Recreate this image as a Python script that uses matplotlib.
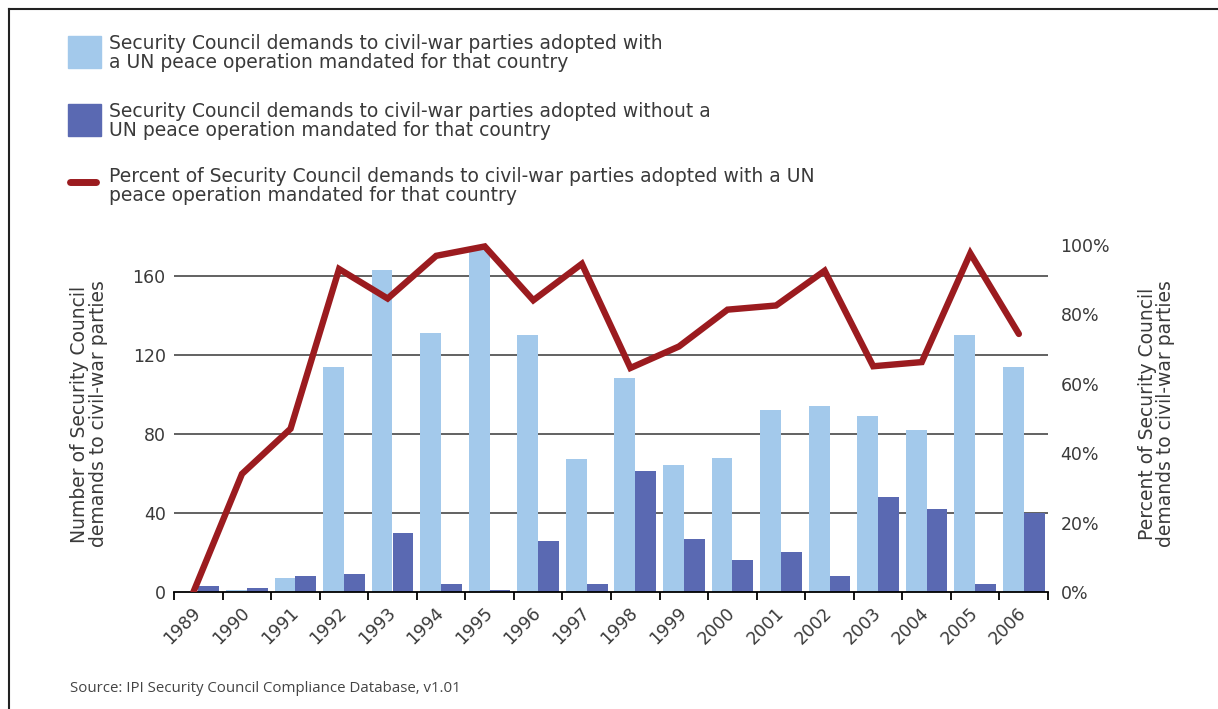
import numpy as np
import matplotlib
matplotlib.use("Agg")
import matplotlib.pyplot as plt
from matplotlib.lines import Line2D
from matplotlib.patches import Rectangle

years = ["1989", "1990", "1991", "1992", "1993", "1994", "1995", "1996", "1997",
         "1998", "1999", "2000", "2001", "2002", "2003", "2004", "2005", "2006"]
with_op = [0, 1, 7, 114, 163, 131, 173, 130, 67, 108, 64, 68, 92, 94, 89, 82, 130, 114]
without_op = [3, 2, 8, 9, 30, 4, 1, 26, 4, 61, 27, 16, 20, 8, 48, 42, 4, 40]
pct_with = [0, 34, 47, 93, 84.5, 96.8, 99.5, 84, 94.5, 64.5, 70.7, 81.3, 82.5, 92.5,
            65, 66.2, 97.5, 74.3]

light = "#a3c9eb"
dark = "#5a69b2"
red = "#9b1b1f"
txt = "#3a3a3a"

plt.rcParams['font.family'] = ['DejaVu Sans']

fig = plt.figure(figsize=(12.18, 7.09), dpi=100)
W, H = 1218, 709
# axes placed in pixel terms: x 174..1048, y 236..592
ax = fig.add_axes([174 / W, 1 - 592 / H, (1048 - 174) / W, (592 - 236) / H])

x = np.arange(len(years))
bw = 0.43
ax.bar(x - bw / 2, with_op, width=bw, color=light, zorder=2)
ax.bar(x + bw / 2, without_op, width=bw, color=dark, zorder=2)

ax.set_xlim(-0.5, len(years) - 0.5)
ax.set_ylim(0, 180)
ax.set_yticks([0, 40, 80, 120, 160])
for v in [40, 80, 120, 160]:
    ax.axhline(v, color="#555555", lw=1.3, zorder=1)
for s in ["top", "right", "left"]:
    ax.spines[s].set_visible(False)
ax.spines["bottom"].set_color("black")
ax.spines["bottom"].set_linewidth(1.3)
ax.tick_params(axis="y", length=0, labelsize=12.5, labelcolor=txt, pad=6)
ax.set_xticks(x)
ax.set_xticklabels(years, rotation=45, ha="right", va="center",
                   rotation_mode="anchor", fontsize=12.5, color=txt)
ax.tick_params(axis="x", length=0, pad=13)
ax.set_xticks(np.arange(len(years) + 1) - 0.5, minor=True)
ax.tick_params(axis="x", which="minor", length=6, width=1.3, color="black")
ax.set_ylabel("Number of Security Council\ndemands to civil-war parties",
              fontsize=13.5, color=txt, labelpad=18, linespacing=0.95)

ax2 = ax.twinx()
ax2.set_ylim(0, 100 * 180 / 175.6)
ax2.set_yticks([0, 20, 40, 60, 80, 100])
ax2.set_yticklabels(["0%", "20%", "40%", "60%", "80%", "100%"])
ax2.tick_params(axis="y", length=0, labelsize=12.5, labelcolor=txt, pad=9)
for s in ["top", "right", "left", "bottom"]:
    ax2.spines[s].set_visible(False)
ax2.plot(x - 0.1, pct_with, color=red, lw=4.6, solid_capstyle="round",
         solid_joinstyle="miter", zorder=3)
ax2.set_ylabel("Percent of Security Council\ndemands to civil-war parties",
               fontsize=13.5, color=txt, labelpad=20, linespacing=0.95)

# legend drawn manually
fig.add_artist(Rectangle((68 / W, 1 - 68 / H), 33 / W, 32 / H, color=light,
                         transform=fig.transFigure))
fig.add_artist(Rectangle((68 / W, 1 - 136 / H), 33 / W, 32 / H, color=dark,
                         transform=fig.transFigure))
fig.add_artist(Line2D([70 / W, 96 / W], [1 - 182 / H, 1 - 182 / H], color=red,
                      lw=5, solid_capstyle="round", transform=fig.transFigure))
legend_texts = [
    ("Security Council demands to civil-war parties adopted with\n"
     "a UN peace operation mandated for that country", 53),
    ("Security Council demands to civil-war parties adopted without a\n"
     "UN peace operation mandated for that country", 121),
    ("Percent of Security Council demands to civil-war parties adopted with a UN\n"
     "peace operation mandated for that country", 186),
]
for t, yc in legend_texts:
    fig.text(109 / W, 1 - yc / H, t, fontsize=13.5, color=txt, va="center",
             ha="left", linespacing=1.02)

fig.text(70 / W, 1 - 688 / H, "Source: IPI Security Council Compliance Database, v1.01",
         fontsize=10.8, color="#444444", va="center", ha="left",
         family=["Open Sans", "DejaVu Sans"])

# frame lines (left and top)
fig.add_artist(Line2D([9 / W, 9 / W], [0, 1 - 9 / H], color="#222222", lw=1.5,
                      transform=fig.transFigure))
fig.add_artist(Line2D([9 / W, 1], [1 - 9 / H, 1 - 9 / H], color="#222222", lw=1.5,
                      transform=fig.transFigure))

fig.savefig("out.png", dpi=100)
